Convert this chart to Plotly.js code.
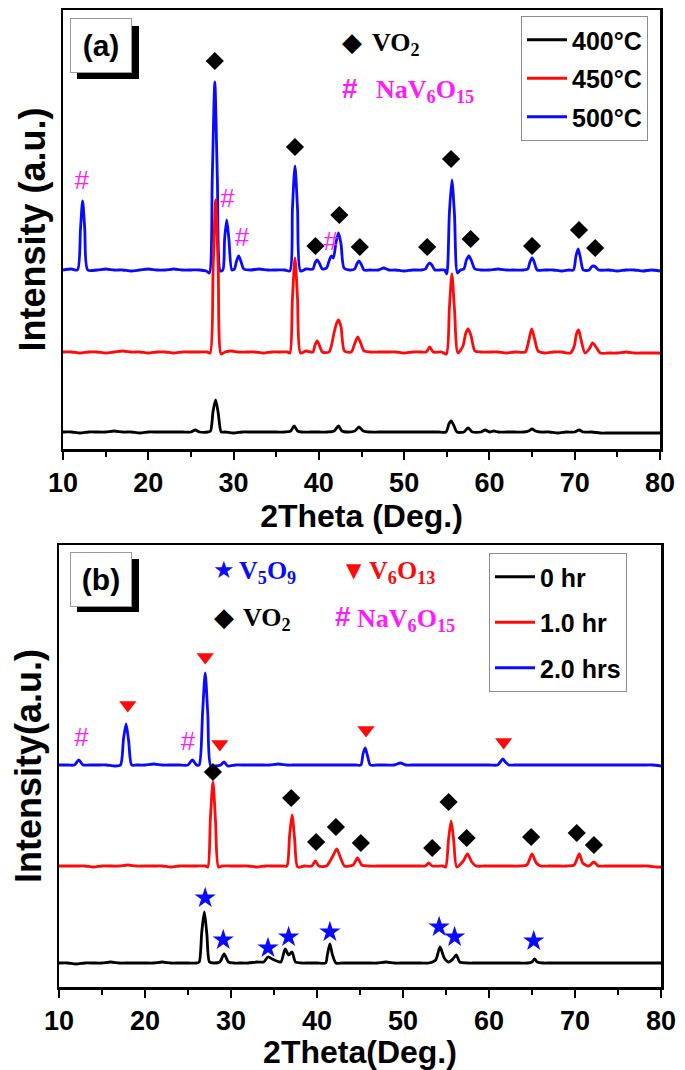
<!DOCTYPE html>
<html><head><meta charset="utf-8">
<script src="https://cdn.plot.ly/plotly-3.0.1.min.js"></script>
<style>body{margin:0;background:#fff}#chart{width:685px;height:1070px}</style>
</head><body><div id="chart"></div>
<script>
// ---------- Panel (a): calcination temperature ----------  [2theta, intensity] pairs
const a_legend = ['400°C', '450°C', '500°C'];
const a_400 = [[10,17],[11,17],[12,16],[13,17],[14,17],[15,17],[16,18],[17,17],[18,17],[19,16],[20,17],[21,17],[22,17],[23,17],[24,17],[25,17],[25.5,19],[26,17],[27,17],[27.3,18],[27.6,38],[27.9,49],[28.2,36],[28.55,17],[29,17],[30,16],[31,17],[32,17],[33,17],[34,17],[35,17],[36,17],[36.7,18],[37.1,23],[37.5,18],[38,17],[39,17],[40,17],[41,17],[41.8,18],[42.3,23],[42.7,18],[43.5,17],[44.2,18],[44.7,22],[45.2,18],[46,17],[47,17],[48,17],[49,17],[50,17],[51,17],[52,17],[53,17],[54,17],[54.9,17],[55.25,25],[55.5,28],[55.8,24],[56.2,17],[57,17],[57.5,21],[58,17],[59,17],[59.5,19],[60,17],[60.5,18],[61,17],[62,17],[63,17],[64,17],[64.6,18],[65.0,20],[65.4,18],[66,17],[67,17],[68,16],[69,17],[70,17],[70.5,19],[71,17],[72,17],[73,16],[74,16],[75,16],[76,16],[77,16],[78,16],[79,16],[80,16]];
const a_450 = [[10,97],[11,97],[12,96],[13,97],[14,97],[15,96],[16,97],[17,98],[18,97],[19,97],[20,96],[21,97],[22,97],[23,96],[24,97],[25,97],[26,97],[26.9,97],[27.25,96],[27.6,180],[27.9,249],[28.2,180],[28.55,95],[29,97],[29.8,98],[30.5,97],[31.5,97],[32.5,97],[33.5,96],[34.5,97],[35.5,97],[36.3,97],[36.6,96],[36.9,150],[37.2,191],[37.5,150],[37.85,96],[38.5,98],[39.3,97],[39.55,104],[39.8,108],[40.05,104],[40.4,97],[41.2,97],[41.75,115],[42.05,125],[42.3,129],[42.6,122],[43.0,98],[43.8,97],[44.15,104],[44.55,112],[44.9,106],[45.3,98],[46,97],[47,97],[48,97],[49,97],[50,96],[51,97],[52,97],[52.6,97],[53.0,102],[53.4,97],[54.4,97],[54.95,95],[55.3,140],[55.6,175],[55.9,140],[56.3,96],[56.9,103],[57.2,115],[57.5,120],[57.85,113],[58.3,98],[59,97],[60,97],[61,97],[62,96],[63,97],[64.2,97],[64.6,108],[64.95,120],[65.3,110],[65.7,98],[66.5,96],[67.5,97],[68.5,97],[69.5,96],[69.95,103],[70.2,115],[70.45,119],[70.75,109],[71.2,96],[71.7,100],[72.1,106],[72.5,102],[73.0,96],[74,96],[75,96],[76,97],[77,96],[78,96],[79,96],[80,96]];
const a_500 = [[10,179],[11,180],[11.7,179],[12.05,220],[12.3,248],[12.55,220],[12.9,179],[14,179],[15,180],[16,179],[17,179],[18,178],[19,179],[20,180],[21,179],[22,179],[23,180],[24,179],[25,179],[26,179],[26.8,178],[27.15,176],[27.5,270],[27.8,367],[28.1,270],[28.45,178],[28.75,179],[28.95,210],[29.2,229],[29.45,210],[29.8,179],[30.1,180],[30.35,188],[30.6,193],[30.85,188],[31.2,180],[32,179],[33,180],[34,179],[35,179],[36,179],[36.6,178],[36.9,240],[37.2,283],[37.5,240],[37.85,178],[38.5,180],[39.3,180],[39.55,186],[39.8,189],[40.05,186],[40.4,180],[40.9,181],[41.2,188],[41.45,193],[41.7,191],[42.0,206],[42.3,216],[42.6,205],[42.95,181],[43.6,179],[44.2,180],[44.45,185],[44.7,188],[44.95,185],[45.3,179],[46,179],[47,179],[47.6,181],[48.2,179],[49,179],[50,178],[51,179],[52,179],[52.5,180],[52.75,184],[53.0,186],[53.25,184],[53.6,179],[54.2,179],[54.75,179],[55.0,175],[55.3,235],[55.6,269],[55.9,235],[56.25,176],[56.6,179],[57.0,180],[57.3,189],[57.6,193],[57.9,188],[58.3,180],[59,179],[60,179],[61,180],[62,179],[63,179],[64,179],[64.5,180],[64.75,187],[65.0,191],[65.25,187],[65.6,179],[66.5,179],[67.5,179],[68.5,178],[69.3,179],[69.85,179],[70.15,193],[70.4,200],[70.65,192],[71.0,179],[71.7,179],[71.95,182],[72.2,183],[72.45,182],[72.8,179],[74,179],[75,178],[76,179],[77,179],[78,178],[79,179],[80,178]];
// peak markers (a)
const a_vo2_x = [27.8,37.2,39.6,42.4,44.8,52.7,55.5,57.8,65.0,70.5,72.4];
const a_vo2_y = [388,302,203,234,202,202,290,210,203,219,201];
const a_nav_x = [12.2,29.3,31.0,41.4];
const a_nav_y = [267,249,210,206];

// ---------- Panel (b): holding time ----------
const b_legend = ['0 hr', '1.0 hr', '2.0 hrs'];
const b_0 = [[10,24],[11,24],[12,23],[13,24],[14,24],[15,24],[16,25],[17,24],[18,24],[19,24],[20,24],[21,24],[22,25],[23,24],[24,24],[25,24],[26,24],[26.3,25],[26.6,55],[26.9,75],[27.2,52],[27.5,25],[28,24],[28.7,25],[29.2,33],[29.7,25],[30.3,24],[31,24],[32,24],[33,25],[33.8,25],[34.3,30],[34.8,28],[35.3,26],[35.8,25],[36.3,38],[36.7,32],[37.1,35],[37.5,25],[38.2,24],[39,24],[40,24],[41,24],[41.2,32],[41.5,43],[41.8,32],[42.2,24],[43,24],[44,24],[45,24],[46,24],[47,24],[48,25],[49,24],[50,24],[51,24],[52,24],[53,24],[53.8,27],[54.3,40],[54.8,29],[55.3,25],[55.8,28],[56.2,32],[56.6,25],[57.5,24],[58.5,24],[59.5,24],[60.5,24],[61.5,24],[62.5,24],[63.5,24],[64.5,24],[65.0,25],[65.3,28],[65.6,25],[66.3,24],[67,24],[68,24],[69,24],[70,24],[71,24],[72,24],[73,24],[74,24],[75,24],[76,24],[77,24],[78,24],[79,24],[80,24]];
const b_1 = [[10,121],[11,121],[12,121],[13,121],[14,120],[15,121],[16,121],[17,121],[18,122],[19,121],[20,121],[21,121],[22,121],[23,120],[24,121],[25,121],[26,121],[27,121],[27.3,120],[27.6,168],[27.9,205],[28.2,166],[28.55,120],[29,121],[30,121],[31,121],[32,121],[33,120],[34,121],[35,121],[36,121],[36.5,121],[36.8,150],[37.1,172],[37.4,148],[37.75,120],[38.5,121],[39.4,121],[39.8,126],[40.2,121],[41.1,121],[41.9,132],[42.3,138],[42.7,130],[43.2,121],[44.2,122],[44.7,129],[45.2,122],[46,121],[47,121],[48,121],[49,121],[50,121],[51,121],[52,121],[52.6,121],[53.0,124],[53.4,121],[54.6,121],[54.95,120],[55.3,148],[55.6,166],[55.9,146],[56.25,120],[57.0,126],[57.5,133],[58.0,125],[58.5,121],[59.5,121],[60.5,121],[61.5,121],[62.5,121],[63.5,121],[64.4,122],[65.0,133],[65.5,124],[66,121],[67,121],[68,121],[69,121],[69.9,122],[70.5,133],[70.9,124],[71.6,121],[72.2,125],[72.7,121],[73.5,121],[74.5,121],[75.5,121],[76.5,121],[77.5,121],[78.5,121],[79.5,120],[80,120]];
const b_2 = [[10,222],[11,222],[11.8,222],[12.3,227],[12.8,222],[13.5,222],[14.5,222],[15.5,222],[16.5,221],[17.15,222],[17.5,248],[17.8,263],[18.1,246],[18.45,222],[19,222],[20,222],[21,223],[22,222],[23,222],[24,222],[25,222],[25.5,227],[26.0,222],[26.3,222],[26.7,275],[27.0,314],[27.3,273],[27.65,221],[28.2,221],[28.8,222],[29.2,225],[29.6,221],[30.5,222],[31.5,222],[32.5,222],[33.5,222],[34.5,222],[35.5,223],[36.5,222],[37.5,222],[38.5,222],[39.5,222],[40.5,222],[41.5,222],[42.5,222],[43.5,222],[44.5,222],[45.1,222],[45.35,233],[45.6,239],[45.85,232],[46.2,222],[47,222],[48,222],[49,222],[49.7,224],[50.3,222],[51,222],[52,222],[53,222],[54,222],[55,222],[56,222],[57,222],[58,222],[59,222],[60,222],[61,222],[61.3,225],[61.6,228],[61.9,225],[62.3,222],[63,222],[64,222],[65,222],[66,222],[67,222],[68,222],[69,222],[70,222],[71,222],[72,222],[73,222],[74,222],[75,222],[76,222],[77,222],[78,222],[79,222],[80,221]];
// peak markers (b)
const b_v5o9_x = [27.0,29.1,34.3,36.7,41.5,54.2,56.0,65.2];
const b_v5o9_y = [89,47,39,50,55,60,50,46];
const b_v6o13_x = [18.0,27.0,28.7,45.7,61.7];
const b_v6o13_y = [282,330,243,257,245];
const b_vo2_x = [27.9,37.0,39.9,42.2,45.1,53.4,55.3,57.4,64.9,70.2,72.2];
const b_vo2_y = [215,189,145,160,144,139,185,149,150,154,142];
const b_nav_x = [12.6,25.0];
const b_nav_y = [248,244];

// ---------- layout helpers (pixel -> paper) ----------
const W = 685, H = 1070, ML = 59, MR = 24, MT = 10, MB = 83;
const PW = W - ML - MR, PH = H - MT - MB;
const px = v => (v - ML) / PW;
const py = v => (H - MB - v) / PH;

const SANS = 'Liberation Sans, Arial, sans-serif';
const SERIF = 'Liberation Serif, Times New Roman, serif';
const BLUE = '#0a0aff', RED = '#ff0a0a', MAG = '#ff1aff';

function line(pts, color, name, xa, ya, leg, rank) {
  return {x: pts.map(p => p[0]), y: pts.map(p => p[1]), type: 'scatter', mode: 'lines', name,
    xaxis: xa, yaxis: ya, legend: leg, legendrank: rank, legendgroup: name,
    line: {color, width: 2.8, shape: 'spline', smoothing: 0.7}, hoverinfo: 'skip'};
}
function mk(x, y, symbol, color, size, xa, ya) {
  return {x, y, type: 'scatter', mode: 'markers', xaxis: xa, yaxis: ya, showlegend: false,
    marker: {symbol, color, size, line: {width: 0}}, hoverinfo: 'skip'};
}
function hash(x, y, xa, ya) {
  return {x, y, type: 'scatter', mode: 'text', text: x.map(() => '#'), xaxis: xa, yaxis: ya,
    showlegend: false, textposition: 'middle center',
    textfont: {family: SANS, size: 26, color: MAG}, hoverinfo: 'skip'};
}

const traces = [
  line(a_400, '#000000', a_legend[0], 'x', 'y', 'legend', 1),
  line(a_500, BLUE, a_legend[2], 'x', 'y', 'legend', 3),
  line(a_450, RED, a_legend[1], 'x', 'y', 'legend', 2),
  mk(a_vo2_x, a_vo2_y, 'diamond', '#000000', 14, 'x', 'y'),
  hash(a_nav_x, a_nav_y, 'x', 'y'),
  line(b_0, '#000000', b_legend[0], 'x2', 'y2', 'legend2', 1),
  line(b_2, BLUE, b_legend[2], 'x2', 'y2', 'legend2', 3),
  line(b_1, RED, b_legend[1], 'x2', 'y2', 'legend2', 2),
  mk(b_v5o9_x, b_v5o9_y, 'star', BLUE, 16, 'x2', 'y2'),
  mk(b_v6o13_x, b_v6o13_y, 'triangle-down', RED, 15, 'x2', 'y2'),
  mk(b_vo2_x, b_vo2_y, 'diamond', '#000000', 14, 'x2', 'y2'),
  hash(b_nav_x, b_nav_y, 'x2', 'y2')
];

const tickFont = {family: SANS, size: 27, color: '#000', weight: 'bold'};
function xax(domain, anchor, title) {
  return {domain, anchor, range: [10, 80], dtick: 10, tick0: 10, ticks: 'outside', ticklen: 8,
    tickwidth: 2, tickcolor: '#000', minor: {dtick: 5, ticks: 'outside', ticklen: 5, tickwidth: 2, tickcolor: '#000'},
    showline: true, linewidth: 2.5, linecolor: '#000', mirror: true, showgrid: false, zeroline: false,
    tickfont: tickFont,
    title: {text: title, font: {family: SANS, size: 32, color: '#000', weight: 'bold'}, standoff: 3}};
}
function yax(domain, anchor, range, title) {
  return {domain, anchor, range, showticklabels: false, ticks: '', showline: true, linewidth: 2.5,
    linecolor: '#000', mirror: true, showgrid: false, zeroline: false,
    title: {text: title, font: {family: SANS, size: 36, color: '#000', weight: 'bold'}, standoff: 4}};
}

const legFont = {family: SANS, size: 25, color: '#000', weight: 'bold'};
const annotations = [];
const shapes = [];
function labelBox(cx, cy, txt) {
  shapes.push({type: 'rect', xref: 'paper', yref: 'paper', x0: px(cx - 24), x1: px(cx + 38),
    y0: py(cy + 33), y1: py(cy - 20), fillcolor: '#000', line: {width: 0}, layer: 'above'});
  annotations.push({xref: 'paper', yref: 'paper', x: px(cx), y: py(cy), text: txt, showarrow: false,
    font: {family: SANS, size: 30, color: '#000', weight: 'bold'}, width: 58, height: 51,
    bgcolor: '#fff', bordercolor: '#9a9a9a', borderwidth: 1, xanchor: 'center', yanchor: 'middle'});
}
labelBox(101, 46, '(a)');
labelBox(101, 579, '(b)');
function key(x, y, txt, color, size, family) {
  annotations.push({xref: 'paper', yref: 'paper', x: px(x), y: py(y), text: txt, showarrow: false,
    xanchor: 'left', yanchor: 'middle', font: {family: family, size: size, color: color, weight: 'bold'}});
}
// panel (a) phase key
key(340, 42, '◆', '#000', 26, 'DejaVu Sans');
key(370, 44, 'VO<sub>2</sub>', '#000', 26, SERIF);
key(340, 88, '#', MAG, 28, SANS);
key(374, 91, 'NaV<sub>6</sub>O<sub>15</sub>', MAG, 26, SERIF);
// panel (b) phase key
key(211, 570, '★', BLUE, 24, 'DejaVu Sans');
key(237, 572, 'V<sub>5</sub>O<sub>9</sub>', BLUE, 26, SERIF);
key(344, 570, '▼', RED, 20, 'DejaVu Sans');
key(367, 572, 'V<sub>6</sub>O<sub>13</sub>', RED, 26, SERIF);
key(212, 617, '◆', '#000', 26, 'DejaVu Sans');
key(241, 619, 'VO<sub>2</sub>', '#000', 26, SERIF);
key(333, 616, '#', MAG, 28, SANS);
key(355, 620, 'NaV<sub>6</sub>O<sub>15</sub>', MAG, 26, SERIF);

const layout = {
  width: W, height: H, margin: {l: ML, r: MR, t: MT, b: MB},
  paper_bgcolor: '#fff', plot_bgcolor: '#fff', showlegend: true,
  xaxis: xax([px(63), px(660)], 'y', '2Theta (Deg.)'),
  yaxis: yax([py(449), 1], 'x', [0, 439], 'Intensity (a.u.)'),
  xaxis2: xax([0, 1], 'y2', '2Theta(Deg.)'),
  yaxis2: yax([0, py(545)], 'x2', [0, 442], 'Intensity(a.u.)'),
  legend: {x: px(521), y: py(16), xanchor: 'left', yanchor: 'top', bgcolor: '#fff',
    bordercolor: '#8c8c8c', borderwidth: 1, font: legFont, tracegroupgap: 3, itemwidth: 40},
  legend2: {x: px(489), y: py(553), xanchor: 'left', yanchor: 'top', bgcolor: '#fff',
    bordercolor: '#8c8c8c', borderwidth: 1, font: legFont, tracegroupgap: 10, itemwidth: 40},
  annotations, shapes
};
Plotly.newPlot('chart', traces, layout, {displayModeBar: false, staticPlot: true});
</script></body></html>
